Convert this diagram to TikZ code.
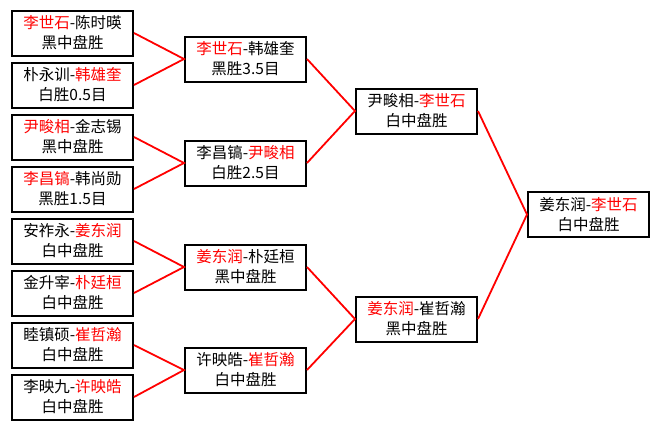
\documentclass[tikz,border=0pt]{standalone}
\usepackage{fontspec}
\setmainfont{Noto Sans CJK SC}
\newcommand{\win}[1]{\textcolor{red}{#1}}
\begin{document}
\begin{tikzpicture}[x=1pt, y=-1pt,
  game/.style={rectangle, draw, line width=2pt, minimum height=45pt, minimum width=121pt,
    align=center, inner sep=0pt, font=\fontsize{15.5}{20}\selectfont},
  link/.style={draw=red, line width=1.8pt}]
  \useasboundingbox (0,0) rectangle (660,429);
  % Round 1
  \node (R16-1) [game] at (72.5, 33) {\win{李世石}-陈时暎\\黑中盘胜};
  \node (R16-2) [game] at (72.5, 85) {朴永训-\win{韩雄奎}\\白胜0.5目};
  \node (R16-3) [game] at (72.5, 137) {\win{尹畯相}-金志锡\\黑中盘胜};
  \node (R16-4) [game] at (72.5, 189) {\win{李昌镐}-韩尚勋\\黑胜1.5目};
  \node (R16-5) [game] at (72.5, 241) {安祚永-\win{姜东润}\\白中盘胜};
  \node (R16-6) [game] at (72.5, 293) {金升宰-\win{朴廷桓}\\白中盘胜};
  \node (R16-7) [game] at (72.5, 345) {睦镇硕-\win{崔哲瀚}\\白中盘胜};
  \node (R16-8) [game] at (72.5, 397) {李映九-\win{许映皓}\\白中盘胜};
  % Quarter finals
  \node (QF-1) [game] at (245.5, 59) {\win{李世石}-韩雄奎\\黑胜3.5目};
  \node (QF-2) [game] at (245.5, 163) {李昌镐-\win{尹畯相}\\白胜2.5目};
  \node (QF-3) [game] at (245.5, 267) {\win{姜东润}-朴廷桓\\黑中盘胜};
  \node (QF-4) [game] at (245.5, 370) {许映皓-\win{崔哲瀚}\\白中盘胜};
  % Semi finals
  \node (SF-1) [game] at (416.5, 111) {尹畯相-\win{李世石}\\白中盘胜};
  \node (SF-2) [game] at (416.5, 319) {\win{姜东润}-崔哲瀚\\黑中盘胜};
  % Final
  \node (F) [game] at (588.5, 214.5) {姜东润-\win{李世石}\\白中盘胜};
  % Lines
  \draw[link] (R16-1.east) -- (QF-1.west) -- (R16-2.east);
  \draw[link] (R16-3.east) -- (QF-2.west) -- (R16-4.east);
  \draw[link] (R16-5.east) -- (QF-3.west) -- (R16-6.east);
  \draw[link] (R16-7.east) -- (QF-4.west) -- (R16-8.east);
  \draw[link] (QF-1.east) -- (SF-1.west) -- (QF-2.east);
  \draw[link] (QF-3.east) -- (SF-2.west) -- (QF-4.east);
  \draw[link] (SF-1.east) -- (F.west) -- (SF-2.east);
\end{tikzpicture}
\end{document}
